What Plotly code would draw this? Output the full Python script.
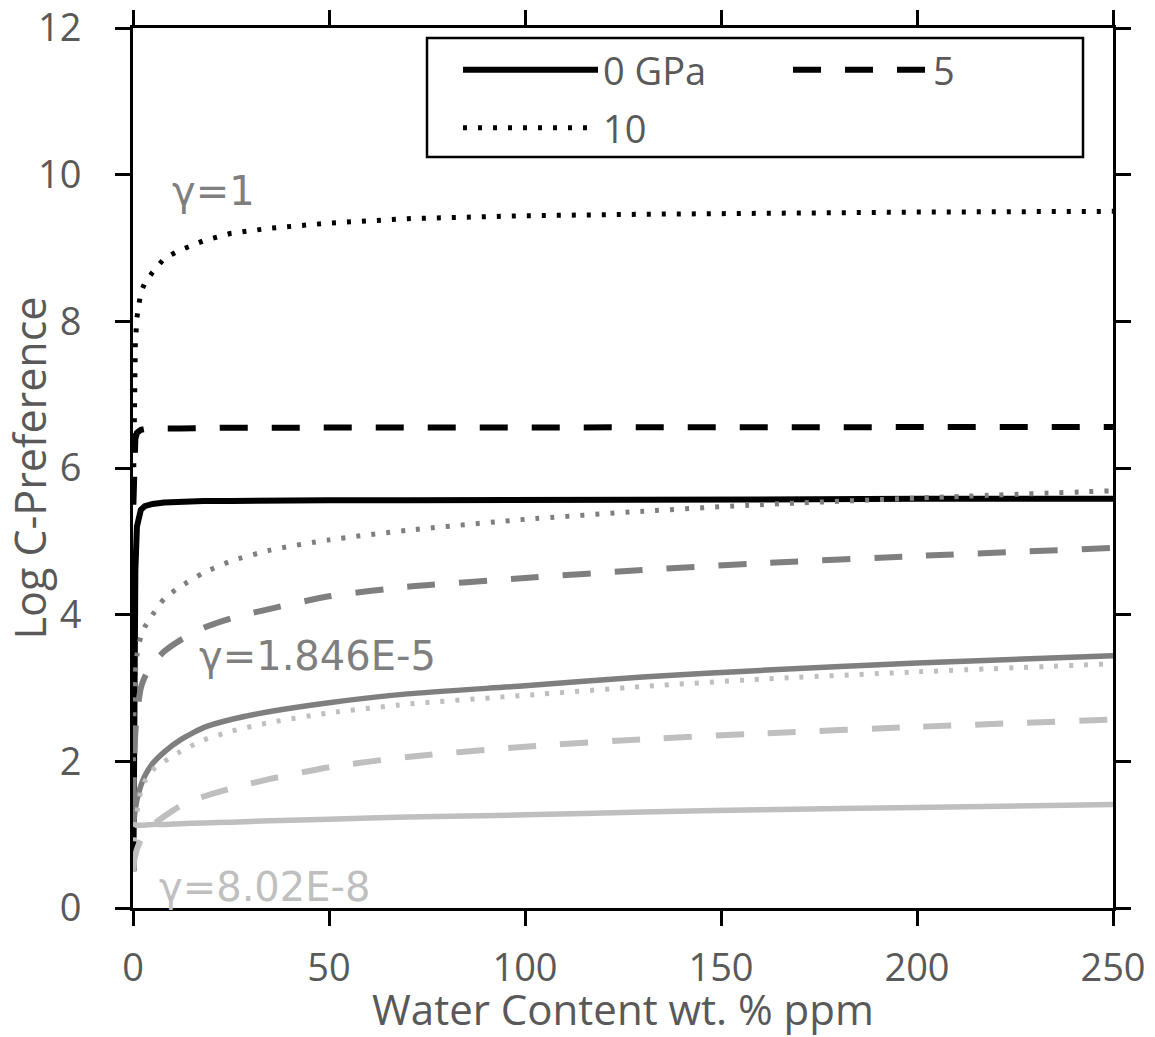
import plotly.graph_objects as go

# ---------------- data ----------------
water_ppm = [0.1, 0.3, 0.6, 1, 2, 3, 5, 8, 12, 18, 25, 35, 50, 70, 100, 130, 160, 200, 250]

# gamma = 1 (black)
g1_0gpa = [0.5, 2.5, 4.6, 5.2, 5.43, 5.48, 5.51, 5.53, 5.54, 5.55, 5.55, 5.56, 5.56, 5.56, 5.57, 5.57, 5.57, 5.58, 5.58]
g1_5gpa = [5.5, 6.1, 6.4, 6.48, 6.52, 6.53, 6.54, 6.54, 6.54, 6.55, 6.55, 6.55, 6.55, 6.55, 6.55, 6.56, 6.56, 6.56, 6.56]
g1_10gpa = [5.6, 7.0, 7.7, 8.05, 8.4, 8.52, 8.67, 8.86, 8.97, 9.1, 9.2, 9.27, 9.34, 9.4, 9.44, 9.46, 9.48, 9.49, 9.5]

# gamma = 1.846E-5 (dark grey)
g2_0gpa = [1.1, 1.22, 1.35, 1.47, 1.67, 1.8, 1.97, 2.13, 2.29, 2.46, 2.57, 2.68, 2.8, 2.92, 3.03, 3.15, 3.24, 3.34, 3.44]
g2_5gpa = [1.4, 2.0, 2.4, 2.65, 3.0, 3.15, 3.33, 3.5, 3.65, 3.82, 3.95, 4.08, 4.25, 4.38, 4.5, 4.61, 4.7, 4.8, 4.91]
g2_10gpa = [2.0, 2.8, 3.2, 3.45, 3.7, 3.83, 4.0, 4.22, 4.38, 4.57, 4.73, 4.88, 5.02, 5.15, 5.3, 5.41, 5.5, 5.59, 5.69]

# gamma = 8.02E-8 (light grey)
g3_0gpa = [1.12, 1.13, 1.13, 1.13, 1.13, 1.13, 1.14, 1.14, 1.15, 1.16, 1.17, 1.19, 1.21, 1.24, 1.27, 1.31, 1.34, 1.37, 1.41]
g3_5gpa = [0.55, 0.65, 0.72, 0.8, 0.93, 1.02, 1.13, 1.25, 1.39, 1.52, 1.63, 1.76, 1.92, 2.06, 2.2, 2.3, 2.38, 2.47, 2.57]
g3_10gpa = [0.5, 0.85, 1.1, 1.3, 1.6, 1.73, 1.88, 2.0, 2.13, 2.29, 2.41, 2.53, 2.66, 2.78, 2.9, 3.02, 3.12, 3.22, 3.33]

legend_names = ["0 GPa", "5", "10"]
gamma_labels = ["γ=1", "γ=1.846E-5", "γ=8.02E-8"]
x_ticks = [0, 50, 100, 150, 200, 250]
y_ticks = [0, 2, 4, 6, 8, 10, 12]

# ---------------- styles ----------------
BLACK = "#000000"
DARK = "#7f7f7f"
LIGHT = "#bfbfbf"
TXT = "#595959"
DASH = "28px,24px"
DOT = "4px,11px"

L, R, T, B = 133, 42, 28, 129
W, H = 1155, 1037
PW, PH = W - L - R, H - T - B


def px_x(p):
    return (p - L) / PW


def px_y(p):
    return (H - B - p) / PH


fig = go.Figure()

series = [
    (g1_0gpa, BLACK, "solid", 6, legend_names[0], "legend", "linear"),
    (g1_5gpa, BLACK, DASH, 6, legend_names[1], "legend2", "linear"),
    (g1_10gpa, BLACK, DOT, 5, legend_names[2], "legend3", "linear"),
    (g2_0gpa, DARK, "solid", 5.5, None, None, "spline"),
    (g2_5gpa, DARK, DASH, 6, None, None, "spline"),
    (g2_10gpa, DARK, DOT, 5, None, None, "spline"),
    (g3_0gpa, LIGHT, "solid", 5.5, None, None, "spline"),
    (g3_5gpa, LIGHT, DASH, 6, None, None, "spline"),
    (g3_10gpa, LIGHT, DOT, 5, None, None, "spline"),
]
for yv, col, dash, lw, name, lg, shape in series:
    line = dict(color=col, width=lw, dash=dash, shape=shape)
    if shape == "spline":
        line["smoothing"] = 0.6
    kw = dict(x=water_ppm, y=yv, mode="lines", line=line, hoverinfo="skip")
    if name is not None:
        kw.update(name=name, showlegend=True, legend=lg)
    else:
        kw.update(showlegend=False)
    fig.add_trace(go.Scatter(**kw))

axis_common = dict(
    showline=True, linecolor="black", linewidth=3, mirror="ticks",
    ticks="outside", ticklen=15, tickwidth=3, tickcolor="black",
    showgrid=False, zeroline=False, automargin=False,
    tickfont=dict(family="Open Sans", size=38, color=TXT),
)

fig.update_xaxes(range=[0, 250], tickvals=x_ticks, ticklabelstandoff=9,
                 title=dict(text="Water Content wt. % ppm",
                            font=dict(family="Open Sans", size=42, color=TXT),
                            standoff=12),
                 **axis_common)
fig.update_yaxes(range=[0, 12], tickvals=y_ticks, ticklabelstandoff=26,
                 title=dict(text="Log C-Preference",
                            font=dict(family="Open Sans", size=43, color=TXT),
                            standoff=0),
                 **axis_common)

# legend box
fig.add_shape(type="rect", xref="paper", yref="paper",
              x0=px_x(427), x1=px_x(1083), y0=px_y(157), y1=px_y(38),
              line=dict(color="black", width=2.5), fillcolor="white", layer="above")

legend_font = dict(family="Open Sans", size=38, color=TXT)
leg_common = dict(xanchor="left", yanchor="middle", itemwidth=135, font=legend_font,
                  bgcolor="rgba(0,0,0,0)", borderwidth=0)
fig.update_layout(
    width=W, height=H,
    margin=dict(l=L, r=R, t=T, b=B, autoexpand=False),
    paper_bgcolor="white", plot_bgcolor="white",
    legend=dict(x=px_x(458), y=px_y(70), **leg_common),
    legend2=dict(x=px_x(788), y=px_y(70), **leg_common),
    legend3=dict(x=px_x(458), y=px_y(128), **leg_common),
)

ann_font = dict(family="DejaVu Sans", size=40)
annots = [
    (gamma_labels[0], 9.4, 9.78, DARK),
    (gamma_labels[1], 16.3, 3.44, DARK),
    (gamma_labels[2], 6.1, 0.29, LIGHT),
]
for txt, ax_, ay_, col in annots:
    fig.add_annotation(text=txt, x=ax_, y=ay_, xref="x", yref="y",
                       xanchor="left", yanchor="middle", showarrow=False,
                       font=dict(color=col, **ann_font))

fig.write_html("out.html",
               config={"displayModeBar": False},
               post_script="document.body.style.margin='0';document.body.style.overflow='hidden';")
